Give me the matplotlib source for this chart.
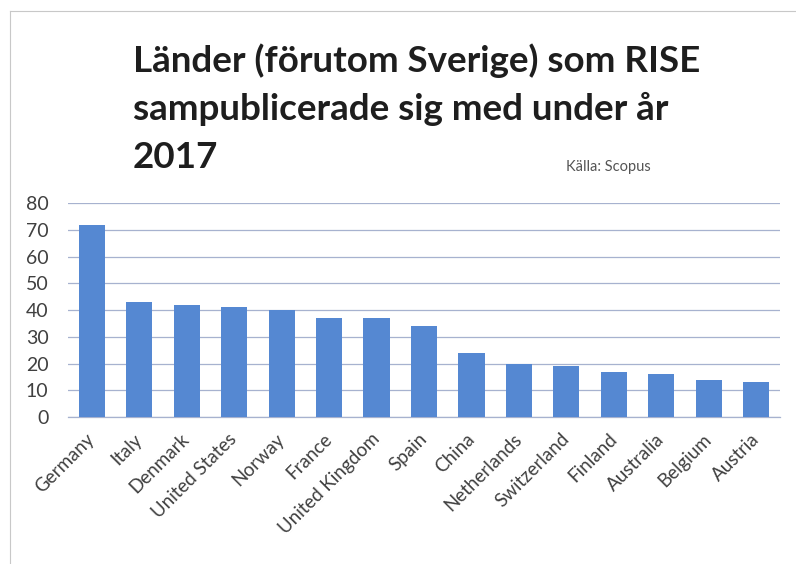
import matplotlib
matplotlib.use("Agg")
import matplotlib.pyplot as plt
from matplotlib.lines import Line2D

countries = ["Germany", "Italy", "Denmark", "United States", "Norway", "France",
             "United Kingdom", "Spain", "China", "Netherlands", "Switzerland",
             "Finland", "Australia", "Belgium", "Austria"]
values = [72, 43, 42, 41, 40, 37, 37, 34, 24, 20, 19, 17, 16, 14, 13]
yticks = [0, 10, 20, 30, 40, 50, 60, 70, 80]
title_lines = ["Länder (förutom Sverige) som RISE",
               "sampublicerade sig med under år",
               "2017"]
source = "Källa: Scopus"

W, H = 796, 564
fig = plt.figure(figsize=(W / 100, H / 100), dpi=100)
fig.patch.set_facecolor("white")

def fx(px):
    return px / W

def fy(py):
    return 1 - py / H

ax = fig.add_axes([fx(68), fy(417), fx(780) - fx(68), fy(203.3) - fy(417)])
x = list(range(len(countries)))
ax.bar(x, values, width=0.55, color="#5588D2", zorder=3)
ax.set_xlim(-0.5, len(countries) - 0.5)
ax.set_ylim(0, 80)
ax.set_yticks(yticks)
ax.set_yticklabels([str(v) for v in yticks], fontfamily="Lato", fontsize=14, color="#404040")
ax.set_xticks(x)
ax.set_xticklabels(countries, rotation=45, ha="right", va="center", rotation_mode="anchor",
                   fontfamily="Lato", fontsize=13.5, color="#404040")
ax.tick_params(axis="y", length=0, pad=14)
ax.tick_params(axis="x", length=0, pad=14)
ax.grid(axis="y", color="#A7B2CF", linewidth=0.9, zorder=0)
for s in ["top", "right", "left"]:
    ax.spines[s].set_visible(False)
ax.spines["bottom"].set_color("#A7B2CF")
ax.spines["bottom"].set_linewidth(0.9)

# title, fitted to reference width
renderer = fig.canvas.get_renderer()
t = fig.text(fx(133), fy(72), title_lines[0], fontfamily="Lato", fontweight="bold",
             fontsize=30, color="#1E1E1E", ha="left", va="baseline")
w = t.get_window_extent(renderer).width
size = 30 * 567 / w
t.set_fontsize(size)
fig.text(fx(133), fy(120), title_lines[1], fontfamily="Lato", fontweight="bold",
         fontsize=size, color="#1E1E1E", ha="left", va="baseline")
fig.text(fx(133), fy(168), title_lines[2], fontfamily="Lato", fontweight="bold",
         fontsize=size, color="#1E1E1E", ha="left", va="baseline")
fig.text(fx(566), fy(171), source, fontfamily="Lato", fontsize=10.5, color="#555555",
         ha="left", va="baseline")

# chart border
fig.add_artist(Line2D([fx(10), fx(796)], [fy(11), fy(11)], color="#C8C8C8", linewidth=0.8))
fig.add_artist(Line2D([fx(10), fx(10)], [fy(11), fy(564)], color="#C8C8C8", linewidth=0.8))

fig.savefig("out.png", dpi=100, facecolor="white")
